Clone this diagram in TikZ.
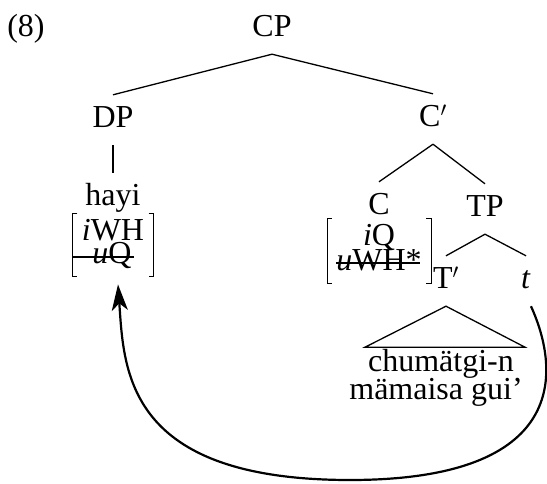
\documentclass[tikz,border=0pt]{standalone}
\usepackage{fontspec}
\setmainfont{Liberation Serif}
\usetikzlibrary{fit,arrows.meta}

\begin{document}
\begin{tikzpicture}[x=1pt, y=-1pt, font=\fontsize{32}{32}\selectfont]
    \tikzstyle{cat_label} = [anchor=base, inner sep=0pt, text height=32pt, text depth=18pt]
    \tikzstyle{word_label} = [anchor=base, inner sep=0pt]
    \tikzstyle{feat_row} = [anchor=base, inner sep=0pt, text height=21pt, text depth=8pt]
    \tikzstyle{feat_box} = [inner xsep=9pt, inner ysep=5pt]
    \tikzstyle{edge_style} = [draw=black, line width=1.3pt]
    \tikzstyle{bracket_style} = [draw=black, line width=0.8pt]
    \tikzstyle{strike_style} = [draw=black, line width=1.2pt]
    \tikzstyle{move_style} = [draw=black, line width=2.2pt, -{Stealth[length=26pt, width=16pt, inset=7pt]}]
    \useasboundingbox (0,0) rectangle (547,483);

    \node[word_label] (ex) at (26,36) {(8)};
    \node[cat_label] (cp) at (272,36) {CP};
    \node[cat_label] (dp) at (113,127) {DP};
    \node[cat_label] (cbar) at (433,126) {C$'$};
    \node[cat_label] (hayi) at (113,205) {hayi};
    \node[cat_label] (c) at (379,214) {C};
    \node[cat_label] (tp) at (485,216) {TP};
    \node[cat_label] (tbar) at (446,288) {T$'$};
    \node[cat_label] (t) at (526,288) {\textit{t}};

    % feature bundles
    \node[feat_row] (iwh) at (113,240) {\textit{i}WH};
    \node[feat_row] (uq) at (112,263) {\textit{u}Q};
    \node[feat_box, fit=(iwh)(uq)] (hayif) {};
    \node[feat_row] (iq) at (379,245) {\textit{i}Q};
    \node[feat_row] (uwh) at (379,270) {\textit{u}WH*};
    \node[feat_box, fit=(iq)(uwh)] (cf) {};

    \node[word_label] (chum) at (441,371) {chumätgi-n};
    \node[word_label] (mama) at (436,399) {mämaisa gui’};

    \draw[edge_style] (cp.south) -- (dp.north);
    \draw[edge_style] (cp.south) -- (cbar.north);
    \draw[edge_style] (dp.south) -- (hayi.north);
    \draw[edge_style] (cbar.south) -- (c.north);
    \draw[edge_style] (cbar.south) -- (tp.north);
    \draw[edge_style] (tp.south) -- (tbar.north);
    \draw[edge_style] (tp.south) -- (t.north);
    \draw[edge_style] (tbar.south) -- ++(-81,41) -- ++(160,0) -- cycle;

    \draw[bracket_style] ([xshift=5pt]hayif.north west) -| (hayif.south west) -- ++(5,0);
    \draw[bracket_style] ([xshift=-5pt]hayif.north east) -| (hayif.south east) -- ++(-5,0);
    \draw[bracket_style] ([xshift=5pt]cf.north west) -| (cf.south west) -- ++(5,0);
    \draw[bracket_style] ([xshift=-5pt]cf.north east) -| (cf.south east) -- ++(-5,0);
    \draw[strike_style] ([yshift=6pt]uq.base west -| hayif.west) -- ([yshift=6pt,xshift=2pt]uq.base east);
    \draw[strike_style] ([yshift=7pt]uwh.base west) -- ([yshift=7pt,xshift=-2pt]uwh.base east);

    \coordinate (low) at (350,480);
    \coordinate (head) at ([xshift=5pt,yshift=-8pt]hayif.south);
    \draw[move_style] (t.south east) .. controls (560,370) and (570,480) .. (low)
        .. controls (125,480) and (124,370) .. (head);
\end{tikzpicture}
\end{document}
